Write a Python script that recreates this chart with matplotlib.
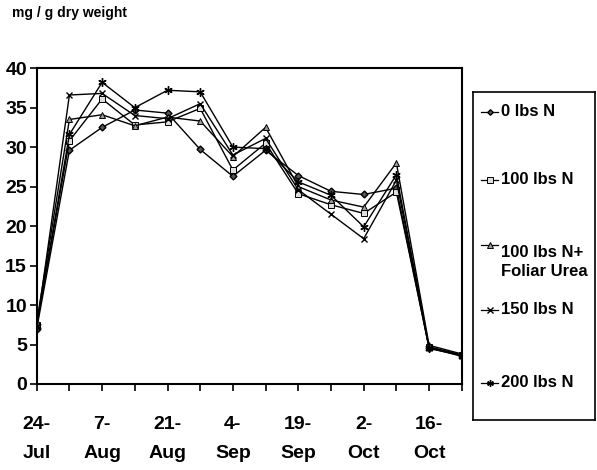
import matplotlib.pyplot as plt
from matplotlib.lines import Line2D

plt.rcParams['font.family'] = ['Liberation Sans', 'DejaVu Sans']

dates = ["24-Jul", "31-Jul", "7-Aug", "14-Aug", "21-Aug", "28-Aug", "4-Sep",
         "11-Sep", "19-Sep", "25-Sep", "2-Oct", "9-Oct", "16-Oct", "23-Oct"]

n0 = [7.0, 29.6, 32.5, 34.7, 34.3, 29.7, 26.3, 29.6, 26.4, 24.4, 24.0, 24.8, 4.5, 3.6]
n100 = [7.5, 30.8, 36.1, 32.8, 33.2, 34.9, 27.1, 30.5, 24.1, 22.7, 21.6, 24.3, 4.7, 3.7]
n100_foliar = [7.8, 33.5, 34.1, 32.7, 33.8, 33.3, 28.8, 32.5, 25.0, 23.3, 22.4, 28.0, 4.9, 3.8]
n150 = [7.2, 36.6, 36.8, 34.0, 33.6, 35.5, 29.0, 31.1, 24.6, 21.5, 18.4, 25.8, 4.6, 3.5]
n200 = [7.4, 31.6, 38.2, 35.0, 37.2, 37.0, 30.0, 29.8, 25.6, 23.9, 19.9, 26.5, 4.6, 3.6]

series = [
    ("0 lbs N", n0, dict(marker="D", markersize=3.5, mfc="#555555", mec="black")),
    ("100 lbs N", n100, dict(marker="s", markersize=5, mfc="#dddddd", mec="black", mew=0.7)),
    ("100 lbs N+\nFoliar Urea", n100_foliar, dict(marker="^", markersize=5, mfc="#999999", mec="black", mew=0.7)),
    ("150 lbs N", n150, dict(marker="x", markersize=5, mec="black", mew=1.0)),
    ("200 lbs N", n200, dict(marker=(6, 2, 0), markersize=6, mec="black", mew=1.0)),
]

fig = plt.figure(figsize=(5.97, 4.70), dpi=100)
ax = fig.add_axes([0.0615, 0.183, 0.712, 0.672])

x = list(range(len(dates)))
for name, vals, style in series:
    ax.plot(x, vals, color="black", linewidth=1.0, **style)

ax.set_xlim(0, len(dates) - 1)
ax.set_ylim(0, 40)
ax.set_yticks(range(0, 41, 5))
ax.set_xticks(x)
labels = [d.replace("-", "-\n") if i % 2 == 0 else "" for i, d in enumerate(dates)]
ax.set_xticklabels(labels, fontsize=14, fontweight="bold", linespacing=1.95)
for t in ax.get_yticklabels():
    t.set_fontsize(14)
    t.set_fontweight("bold")
ax.tick_params(axis="both", direction="out", length=5, width=1.2, pad=2)
ax.tick_params(axis="x", pad=18)
for sp in ax.spines.values():
    sp.set_linewidth(1.5)

fig.text(0.02, 0.972, "mg / g dry weight", fontsize=10, fontweight="bold", va="center", ha="left")

# legend box on the right
lax = fig.add_axes([472.7 / 597, 1 - 420 / 470, (595 - 472.7) / 597, (420 - 91.7) / 470])
lax.set_xlim(472.7, 595)
lax.set_ylim(420, 91.7)
lax.set_xticks([])
lax.set_yticks([])
for sp in lax.spines.values():
    sp.set_linewidth(1.2)
rows = [112, 180, 245, 310, 383]
for (name, vals, style), y in zip(series, rows):
    st = dict(style)
    st["markersize"] = st["markersize"] * 0.8
    lax.add_line(Line2D([481, 498], [y, y], color="black", linewidth=0.9))
    lax.add_line(Line2D([489.5], [y], color="black", linestyle="none", **st))
    lax.text(501, y, name, fontsize=12, fontweight="bold",
             va="center" if "\n" not in name else "top", ha="left", linespacing=1.3)

fig.savefig("out.png", dpi=100)
